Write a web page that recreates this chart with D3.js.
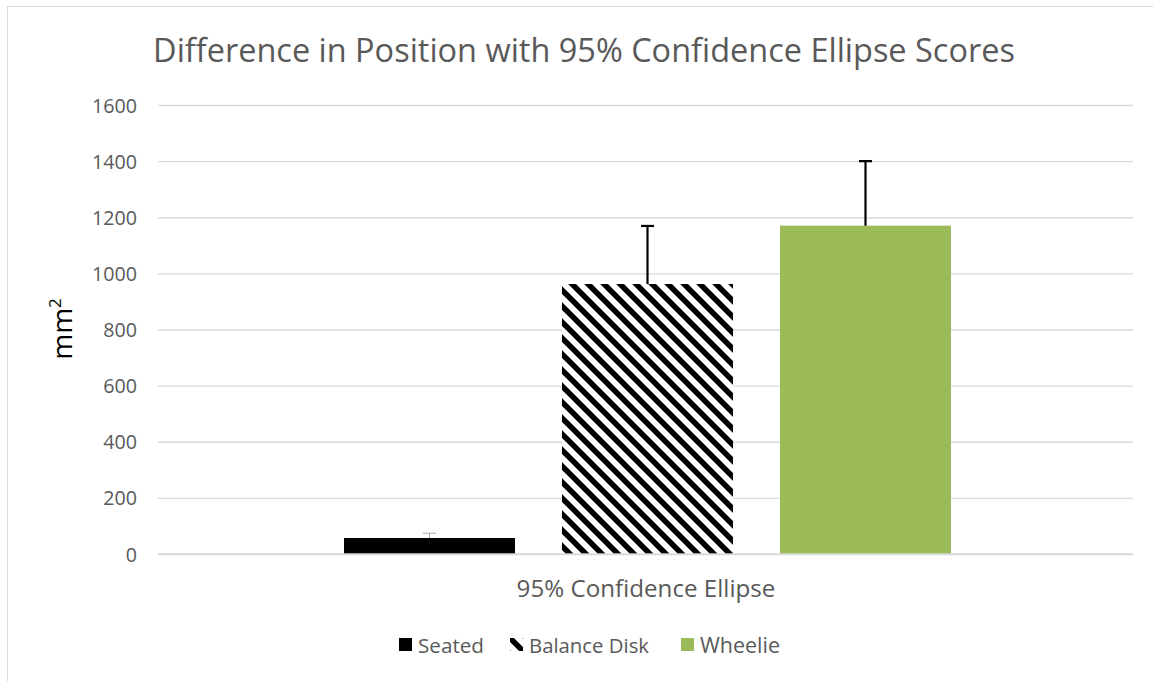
<!DOCTYPE html>
<html><head><meta charset="utf-8">
<script src="https://cdn.jsdelivr.net/npm/d3@7"></script>
<style>body{margin:0;background:#fff;} svg{display:block;}</style>
</head><body>
<svg id="c" width="1153" height="681"></svg>
<script>
const categories = ["95% Confidence Ellipse"];
const series = ["Seated", "Balance Disk", "Wheelie"];
const values = [57, 962, 1170];
const errorsPlus = [17, 207, 230];
const yTicks = [0, 200, 400, 600, 800, 1000, 1200, 1400, 1600];
const title = "Difference in Position with 95% Confidence Ellipse Scores";
const yLabel = "mm";

const FONT = "'Open Sans', 'Noto Sans', sans-serif";
const svg = d3.select("#c");
const W = 1153, H = 681;
const plot = {left: 158, right: 1133, top: 105, bottom: 554};

// frame
svg.append("rect").attr("x", 7.5).attr("y", 6.5).attr("width", W).attr("height", H)
  .attr("fill", "#fff").attr("stroke", "#d9d9d9").attr("stroke-width", 1);

const defs = svg.append("defs");
const pat = defs.append("pattern").attr("id", "hatch").attr("patternUnits", "userSpaceOnUse")
  .attr("width", 16).attr("height", 16);
pat.append("rect").attr("width", 16).attr("height", 16).attr("fill", "#fff");
pat.append("path").attr("d", "M-4,-4 L20,20 M-4,12 L4,20 M12,-4 L20,4")
  .attr("stroke", "#000").attr("stroke-width", 5.5);

const y = d3.scaleLinear().domain([0, 1600]).range([plot.bottom, plot.top]);
const x0 = d3.scaleBand().domain(categories).range([plot.left + 2, plot.right + 2]);
const x1 = d3.scaleBand().domain(series).range([x0(categories[0]), x0(categories[0]) + x0.bandwidth()])
  .paddingInner(0.2156).paddingOuter(0.844);

const fills = {"Seated": "#000000", "Balance Disk": "url(#hatch)", "Wheelie": "#9bbb59"};

function fit(sel, target) {
  const n = sel.node();
  const fs = parseFloat(sel.attr("font-size"));
  const w = n.getComputedTextLength();
  sel.attr("font-size", (fs * target / w).toFixed(2));
}

// gridlines
const yAxis = d3.axisLeft(y).tickValues(yTicks).tickSize(-(plot.right - plot.left)).tickPadding(21).tickFormat(d3.format("d"));
const ga = svg.append("g").attr("transform", `translate(${plot.left},0)`).call(yAxis);
ga.select(".domain").remove();
ga.selectAll(".tick line").attr("stroke", "#d9d9d9").attr("stroke-width", 1.3);
ga.selectAll(".tick text").attr("fill", "#595959").attr("font-family", FONT).attr("font-size", 18)
  .attr("dy", "0.36em");
ga.selectAll(".tick text").each(function(){ fit(d3.select(this), 45 * this.textContent.length / 4); });

// bars
const data = series.map((s, i) => ({s, v: values[i], e: errorsPlus[i]}));
svg.append("g").selectAll("rect").data(data).join("rect")
  .attr("x", d => x1(d.s)).attr("width", x1.bandwidth())
  .attr("y", d => y(d.v)).attr("height", d => y(0) - y(d.v))
  .attr("fill", d => fills[d.s]);

// x axis line
svg.append("line").attr("x1", plot.left).attr("x2", plot.right).attr("y1", y(0)).attr("y2", y(0))
  .attr("stroke", "#d9d9d9").attr("stroke-width", 1.3);

// error bars
const eb = svg.append("g").selectAll("g").data(data).join("g");
eb.each(function(d, i) {
  const g = d3.select(this);
  const cx = x1(d.s) + x1.bandwidth() / 2;
  const col = i === 0 ? "#a6a6a6" : "#000";
  const sw = i === 0 ? 1 : 2.2;
  g.append("line").attr("x1", cx).attr("x2", cx).attr("y1", y(d.v)).attr("y2", y(d.v + d.e))
    .attr("stroke", col).attr("stroke-width", sw);
  g.append("line").attr("x1", cx - 6.5).attr("x2", cx + 6.5).attr("y1", y(d.v + d.e)).attr("y2", y(d.v + d.e))
    .attr("stroke", col).attr("stroke-width", sw);
});

// title
const t = svg.append("text").attr("x", 584).attr("y", 62).attr("text-anchor", "middle")
  .attr("font-family", FONT).attr("font-size", 28).attr("fill", "#595959").text(title);
fit(t, 862);

// category label
const cl = svg.append("text").attr("x", 646).attr("y", 597).attr("text-anchor", "middle")
  .attr("font-family", FONT).attr("font-size", 20).attr("fill", "#595959").text(categories[0]);
fit(cl, 259);

// y label
const yl = svg.append("text").attr("transform", "translate(72,329) rotate(-90)").attr("text-anchor", "middle")
  .attr("font-family", FONT).attr("font-size", 28).attr("fill", "#000");
yl.append("tspan").text(yLabel);
yl.append("tspan").attr("font-size", 17).attr("dy", -11).text("2");

// legend
const legX = [399, 510, 681];
const legW = [66, 120, 80];
const lg = svg.append("g");
series.forEach((s, i) => {
  lg.append("rect").attr("x", legX[i]).attr("y", 638).attr("width", 13).attr("height", 13)
    .attr("fill", fills[s]);
  const tx = lg.append("text").attr("x", legX[i] + 19).attr("y", 652.5)
    .attr("font-family", FONT).attr("font-size", 19).attr("fill", "#595959").text(s);
  fit(tx, legW[i]);
});
</script>
</body></html>
